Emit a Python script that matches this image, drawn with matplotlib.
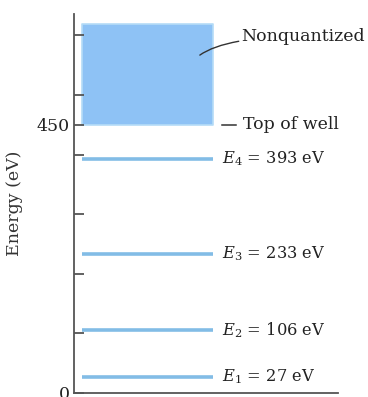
import numpy as np
import matplotlib.pyplot as plt

plt.rcParams['font.family'] = ['DejaVu Serif']
plt.rcParams['mathtext.fontset'] = 'dejavuserif'

# energy levels of the finite well
levels = [27, 106, 233, 393]
names = ['$E_1$', '$E_2$', '$E_3$', '$E_4$']
top_of_well = 450
box_top = 620
yticks = [0, 100, 200, 300, 400, 450, 500, 600]
ytick_labels = ['0', '', '', '', '', '450', '', '']

fs = 12.5
fig = plt.figure(figsize=(3.68, 3.97), dpi=100)
ax = fig.add_axes([0.201, 0.0101, 0.717, 0.9547])
ax.set_xlim(0, 1)
ax.set_ylim(0, 636)

axcol = '#555555'
ax.spines['top'].set_visible(False)
ax.spines['right'].set_visible(False)
ax.spines['left'].set_color(axcol)
ax.spines['bottom'].set_color(axcol)
ax.spines['left'].set_linewidth(1.3)
ax.spines['bottom'].set_linewidth(1.3)
ax.set_xticks([])
ax.set_yticks(yticks)
ax.set_yticklabels(ytick_labels, fontsize=fs, color='#222222')
ax.tick_params(axis='y', direction='in', length=7, width=1.3, color=axcol, pad=3)
ax.set_ylabel('Energy (eV)', fontsize=fs, color='#333333', labelpad=10)

# nonquantized region
ax.fill_between([0.03, 0.527], top_of_well, box_top, color='#8ec2f5',
                edgecolor='#b5dcf7', linewidth=1.2)

for e, n in zip(levels, names):
    ax.plot([0.03, 0.527], [e, e], color='#82bce6', lw=2.6, solid_capstyle='butt')
    ax.text(0.56, e, n + ' = %d eV' % e, fontsize=fs - 0.8, va='center', ha='left', color='#222222')

ax.plot([0.56, 0.614], [top_of_well, top_of_well], color='#333333', lw=1.1)
ax.text(0.64, top_of_well, 'Top of well', fontsize=fs, va='center', ha='left', color='#222222')

ax.annotate('Nonquantized', xy=(0.477, 567), xytext=(0.635, 598),
            fontsize=fs, va='center', ha='left', color='#222222',
            arrowprops=dict(arrowstyle='-', color='#333333', lw=1.0,
                            shrinkA=0, shrinkB=0,
                            connectionstyle='angle3,angleA=0,angleB=35'))

plt.savefig('out.png', dpi=100)
